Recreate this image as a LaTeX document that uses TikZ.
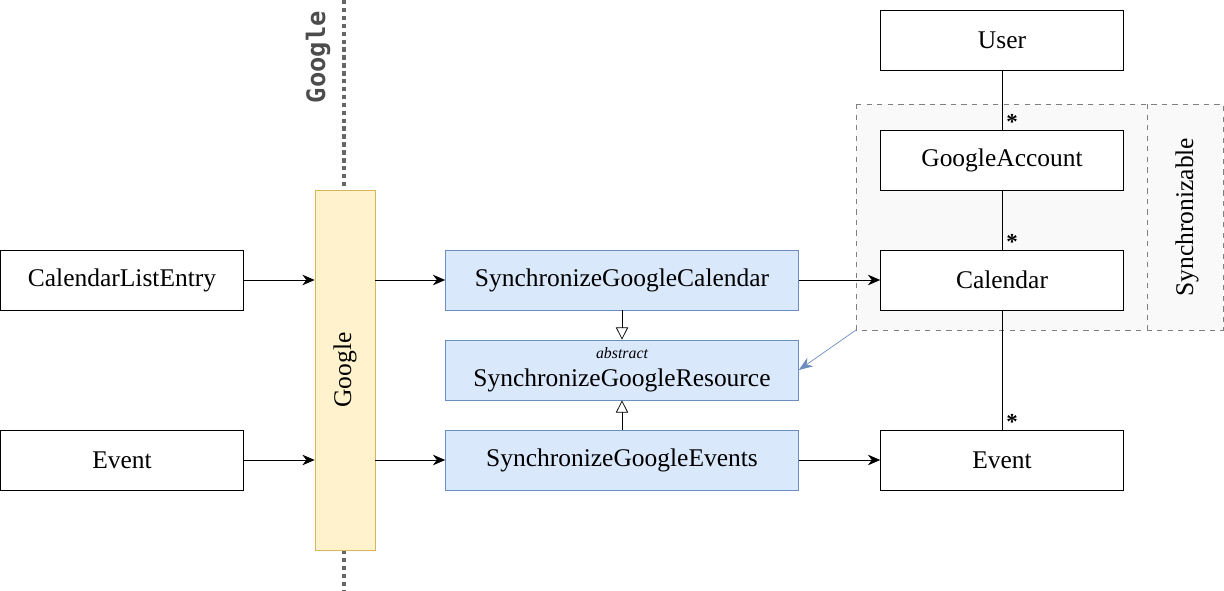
\documentclass[tikz,border=0pt]{standalone}
\usepackage{fontspec}
\setmainfont{Liberation Serif}
\newfontfamily\monof{DejaVu Sans Mono}
\usetikzlibrary{arrows.meta}
\definecolor{bfill}{HTML}{DAE8FC}\definecolor{bline}{HTML}{6C8EBF}
\definecolor{yfill}{HTML}{FFF2CC}\definecolor{yline}{HTML}{D6B656}
\definecolor{cfill}{HTML}{F9F9F9}
\begin{document}
\begin{tikzpicture}[x=0.02cm,y=-0.02cm,
  fnt/.style={font=\fontsize{14.5}{17}\selectfont},
  box/.style={draw=black,fill=white,minimum width=4.86cm,minimum height=1.2cm,inner sep=0pt,fnt},
  bbox/.style={draw=bline,fill=bfill,minimum width=7.06cm,minimum height=1.2cm,inner sep=0pt,fnt},
  arr/.style={-{Stealth[length=7pt,width=6pt]}},
  inh/.style={-{Triangle[open,length=7pt,width=7pt]}},
  star/.style={font=\fontsize{13}{13}\selectfont\bfseries}]
\useasboundingbox (0,0) rectangle (1224,591);
% dashed container
\draw[dashed,gray,fill=cfill] (856,104) rectangle (1223,330);
\draw[dashed,gray] (1147,104) -- (1147,330);
\node[rotate=90,fnt] (syn) at (1187,217) {Synchronizable};
% dotted line
\coordinate (d1) at (344,0); \coordinate (d2) at (344,190);
\coordinate (d3) at (344,550); \coordinate (d4) at (344,590);
\draw[line width=2.5pt,dotted,gray!80!black] (d1)--(d2) (d3)--(d4);
\node[rotate=90,font=\monof\bfseries\fontsize{14.5}{17}\selectfont,text=black!70] (gl) at (318,57) {Google};
% yellow bar
\node[draw=yline,fill=yfill,minimum width=1.2cm,minimum height=7.2cm,inner sep=0pt] (g) at (345,370) {};
\node[rotate=90,fnt] at (g) {Google};
% boxes
\node[box] (user) at (1002,40) {User};
\node[box] (ga) at (1002,160) {GoogleAccount};
\node[box] (cal) at (1002,280) {Calendar};
\node[box] (ev) at (1002,460) {Event};
\node[box] (cle) at (122,280) {CalendarListEntry};
\node[box] (evl) at (122,460) {Event};
\node[bbox] (sc) at (622,280) {SynchronizeGoogleCalendar};
\node[bbox] (sr) at (622,370) {};
\node[font=\fontsize{9}{10}\selectfont\itshape] at (622,353) {abstract};
\node[fnt] at (622,380) {SynchronizeGoogleResource};
\node[bbox] (se) at (622,460) {SynchronizeGoogleEvents};
% connectors
\draw[arr] (cle) -- (cle -| g.west);
\draw[arr] (evl) -- (evl -| g.west);
\draw[arr] (sc -| g.east) -- (sc);
\draw[arr] (se -| g.east) -- (se);
\draw[arr] (sc) -- (cal);
\draw[arr] (se) -- (ev);
\draw[inh] (sc) -- (sr);
\draw[inh] (se) -- (sr);
\draw (user) -- (ga);
\draw (ga) -- (cal);
\draw (cal) -- (ev);
\node[star] at (1012,122) {*};
\node[star] at (1012,242) {*};
\node[star] at (1012,422) {*};
\coordinate (cc) at (856,330);
\draw[-{Stealth[length=8pt,width=6pt]},bline] (cc) -- (sr.east);
\end{tikzpicture}
\end{document}
